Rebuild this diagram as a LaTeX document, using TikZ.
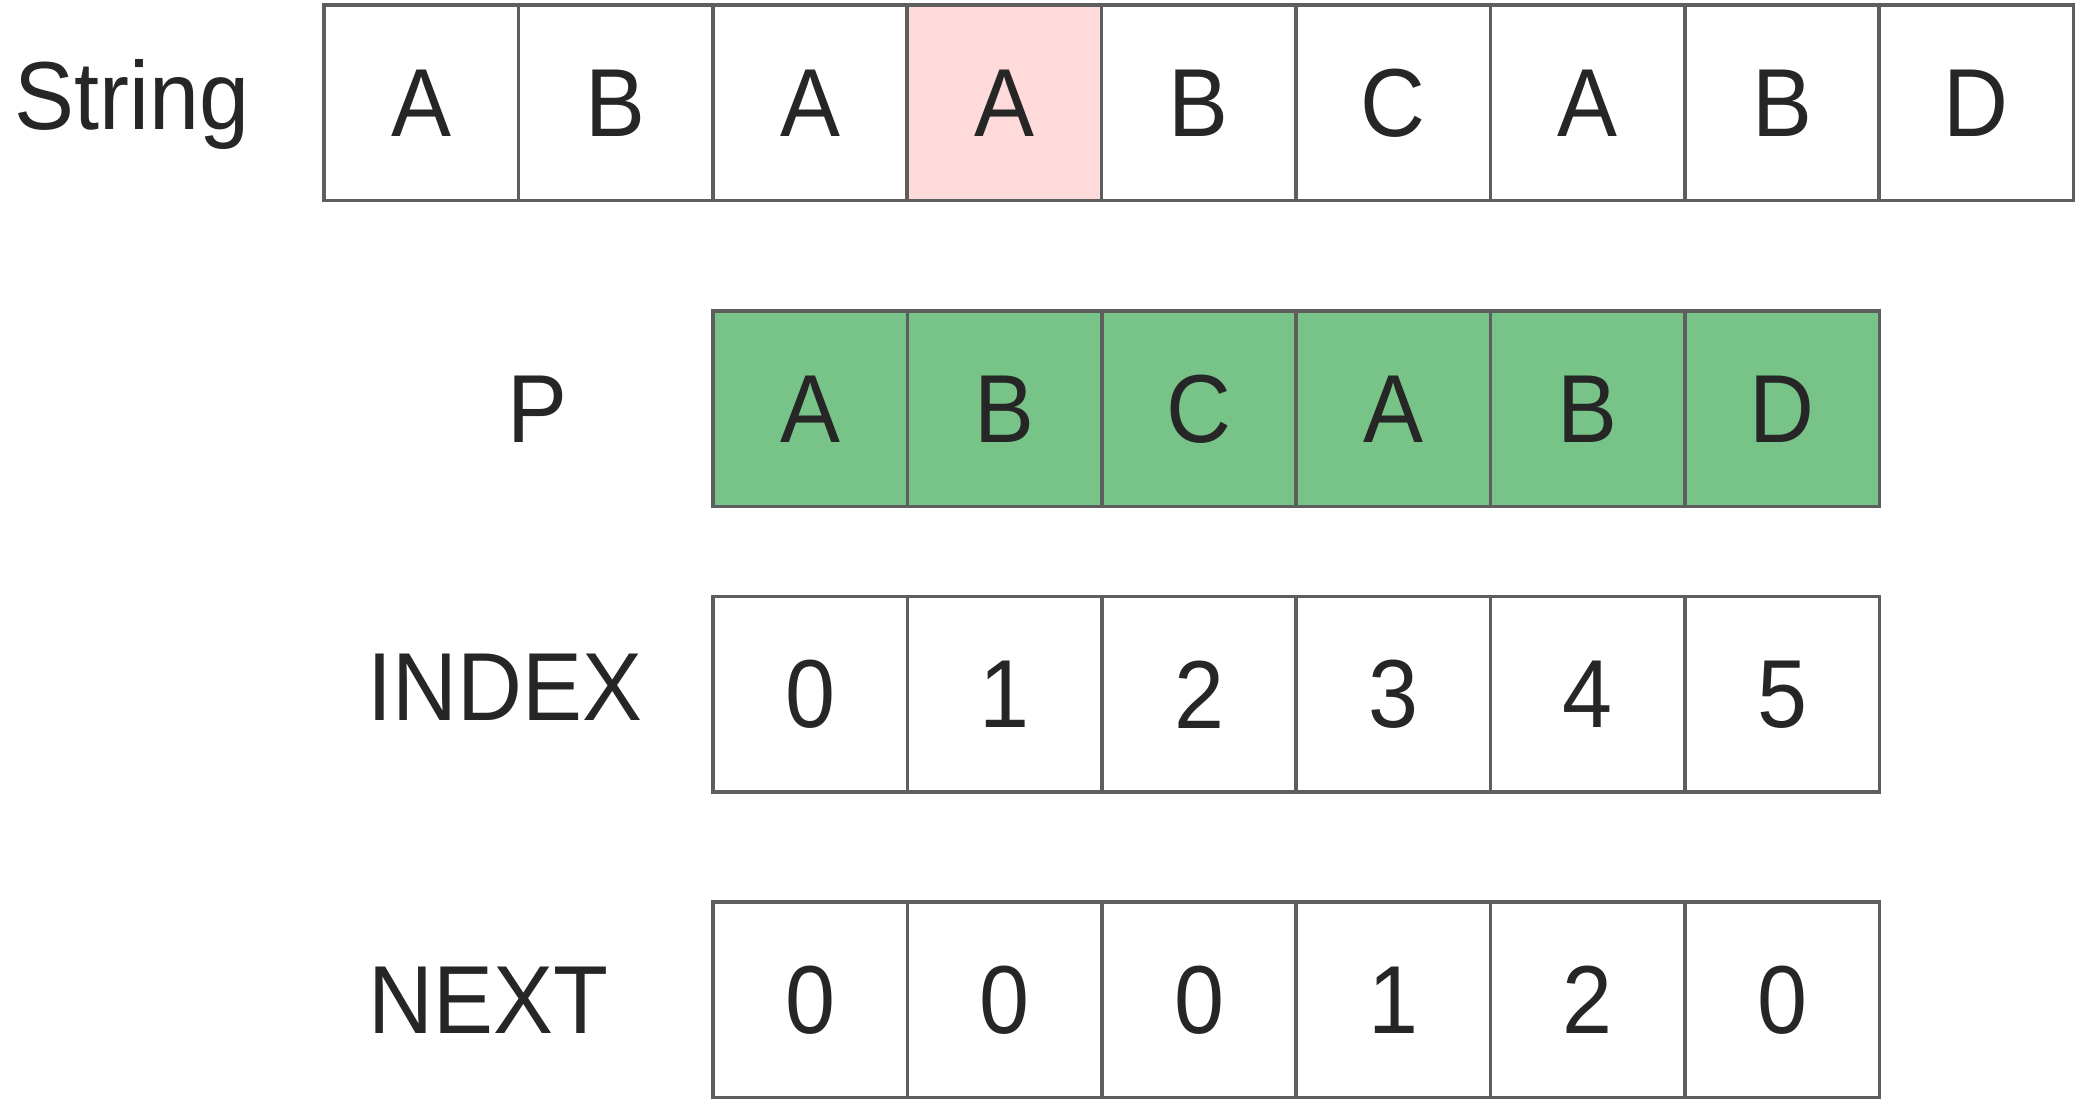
\documentclass[tikz,border=0pt]{standalone}
\usepackage{fontspec}
\setmainfont[FakeStretch=0.93]{Liberation Sans}
\usepackage{xcolor}
\definecolor{cellline}{HTML}{5E5E5E}
\definecolor{hitpink}{HTML}{FFDADA}
\definecolor{pgreen}{HTML}{78C387}
\definecolor{txt}{HTML}{262626}

\tikzset{
  cell/.style={draw=cellline, line width=1pt, minimum width=19.44mm, minimum height=19.55mm,
    inner sep=0pt, outer sep=0pt, text=txt, font=\fontsize{27.5pt}{32pt}\selectfont},
  rowlabel/.style={inner sep=0pt, text=txt, font=\fontsize{27.5pt}{32pt}\selectfont}
}

\begin{document}
\begin{tikzpicture}[x=0.1mm, y=-0.1mm]
\useasboundingbox (0, 0) rectangle (2087, 1103);
% text being searched
\foreach \c/\f [count=\i] in {A/white, B/white, A/white, A/hitpink, B/white, C/white, A/white, B/white, D/white}
  \node[cell, fill=\f] (s\i) at (324+194.4*\i-97.2, 103) {\c};
% pattern, index, next
\foreach \c [count=\i] in {A, B, C, A, B, D}
  \node[cell, fill=pgreen] (p\i) at (713+194.4*\i-97.2, 409) {\c};
\foreach \c [count=\i] in {0, 1, 2, 3, 4, 5}
  \node[cell, fill=white] (idx\i) at (713+194.4*\i-97.2, 694.5) {\c};
\foreach \c [count=\i] in {0, 0, 0, 1, 2, 0}
  \node[cell, fill=white] (nxt\i) at (713+194.4*\i-97.2, 1000) {\c};
\node[rowlabel, anchor=base west] (lstring) at (14, 130) {String};
\node[rowlabel, anchor=base] (lp) at (537, 443) {P};
\node[rowlabel, anchor=base west] (lindex) at (367, 721) {INDEX};
\node[rowlabel, anchor=base west] (lnext) at (368, 1034) {NEXT};
\end{tikzpicture}
\end{document}
